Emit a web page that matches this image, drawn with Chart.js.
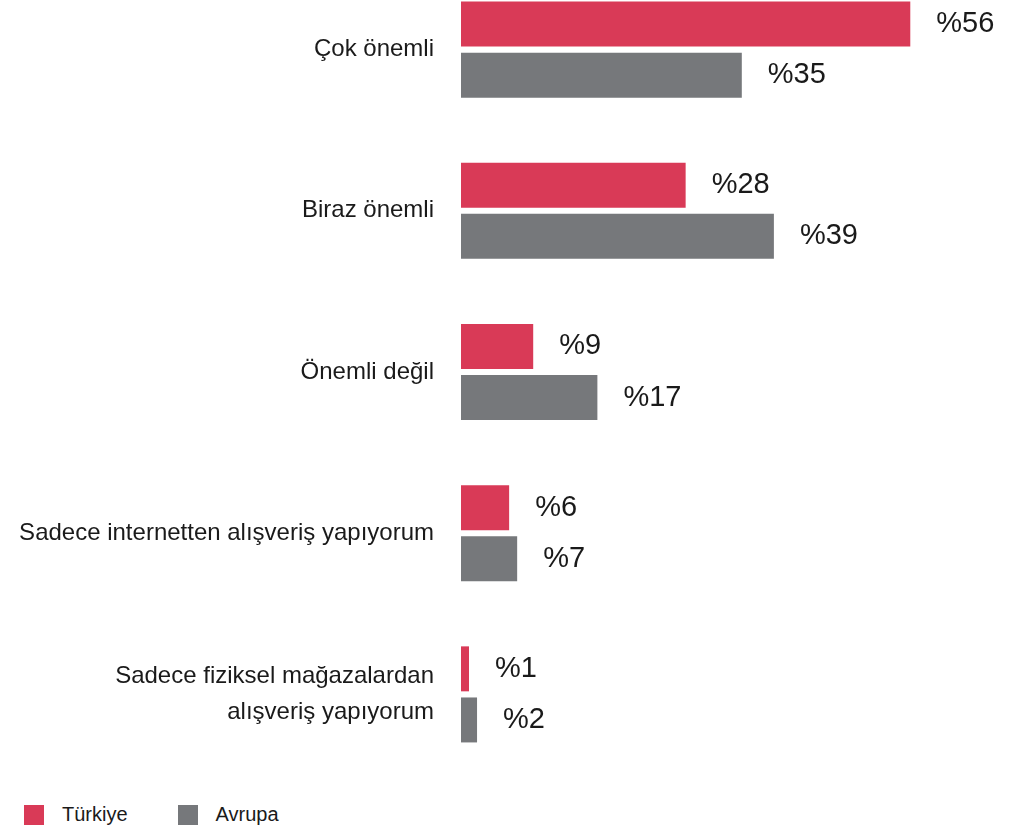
<!DOCTYPE html>
<html lang="tr">
<head>
<meta charset="utf-8">
<script src="https://cdn.jsdelivr.net/npm/chart.js@4"></script>
<style>
  html, body { margin: 0; padding: 0; background: #fff; }
  body { width: 1034px; height: 830px; position: relative; overflow: hidden; font-family: "Liberation Sans", Arial, sans-serif; }
  #wrap { position: absolute; left: 0; top: -31px; width: 1034px; height: 806px; }
  #legend { position: absolute; left: 24px; top: 803px; display: flex; font-size: 20px; color: #1a1a1a; }
  .item { display: flex; align-items: center; margin-right: 50px; }
  .box { width: 20px; height: 20px; margin-right: 18px; }
</style>
</head>
<body>
<div id="wrap"><canvas id="chart"></canvas></div>
<div id="legend"></div>
<script>
const categories = [
  "Çok önemli",
  "Biraz önemli",
  "Önemli değil",
  "Sadece internetten alışveriş yapıyorum",
  ["Sadece fiziksel mağazalardan", "alışveriş yapıyorum"],
];
const turkiye = [56, 28, 9, 6, 1];
const avrupa = [35, 39, 17, 7, 2];
const seriesNames = ["Türkiye", "Avrupa"];
const seriesColors = ["#d93a57", "#76787b"];

const valueLabels = {
  id: "valueLabels",
  afterDatasetsDraw(chart) {
    const ctx = chart.ctx;
    ctx.save();
    ctx.font = "29px 'Liberation Sans', Arial, sans-serif";
    ctx.fillStyle = "#1a1a1a";
    ctx.textBaseline = "middle";
    ctx.textAlign = "left";
    chart.data.datasets.forEach((ds, i) => {
      chart.getDatasetMeta(i).data.forEach((bar, j) => {
        ctx.fillText("%" + ds.data[j], bar.x + 26, bar.y);
      });
    });
    ctx.restore();
  },
};

new Chart(document.getElementById("chart"), {
  type: "bar",
  data: {
    labels: categories,
    datasets: [
      { label: seriesNames[0], data: turkiye, backgroundColor: seriesColors[0] },
      { label: seriesNames[1], data: avrupa, backgroundColor: seriesColors[1] },
    ],
  },
  options: {
    indexAxis: "y",
    responsive: true,
    maintainAspectRatio: false,
    animation: false,
    categoryPercentage: 0.634,
    barPercentage: 0.88,
    layout: { padding: { left: 0, right: 13, top: 0, bottom: 0 } },
    plugins: {
      legend: { display: false },
      tooltip: { enabled: false },
    },
    scales: {
      x: { display: false, min: 0, max: 69.8 },
      y: {
        grid: { display: false },
        border: { display: false },
        ticks: {
          padding: 19,
          color: "#1a1a1a",
          font: { family: "'Liberation Sans', Arial, sans-serif", size: 24, lineHeight: 1.5 },
        },
        afterFit(scale) {
          scale.width = 461;
          scale.paddingTop = 0;
          scale.paddingBottom = 0;
        },
      },
    },
  },
  plugins: [valueLabels],
});

const legend = document.getElementById("legend");
seriesNames.forEach((name, i) => {
  const item = document.createElement("div");
  item.className = "item";
  const box = document.createElement("span");
  box.className = "box";
  box.style.background = seriesColors[i];
  const text = document.createElement("span");
  text.textContent = name;
  item.appendChild(box);
  item.appendChild(text);
  legend.appendChild(item);
});
</script>
</body>
</html>
